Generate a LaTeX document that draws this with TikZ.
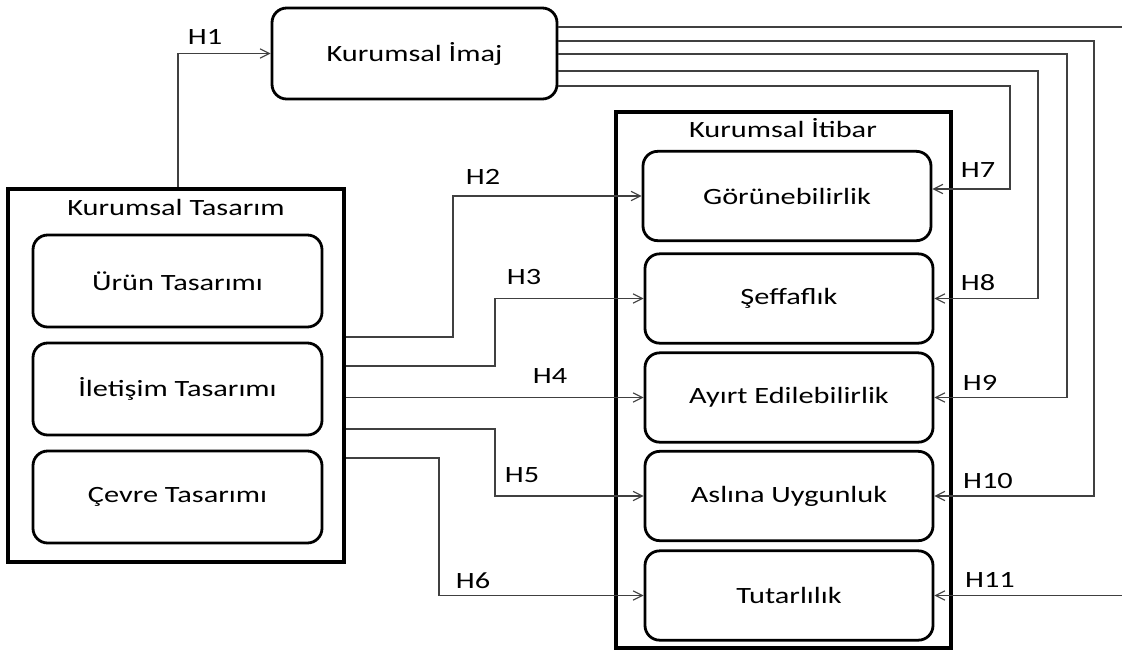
\documentclass[tikz,border=0pt]{standalone}
\usepackage{fontspec}
\setmainfont{Carlito}[FakeStretch=1.3]
\usetikzlibrary{arrows.meta}

\begin{document}
\begin{tikzpicture}[x=0.75pt,y=-0.75pt,
  every node/.style={font=\fontsize{17.5}{20}\selectfont, inner sep=0pt},
  outerbox/.style={draw, line width=2.7pt, minimum width=#1},
  rbox/.style={draw, line width=2.1pt, rounded corners=11pt, align=center},
  lbox/.style={rbox, minimum width=216.75pt, minimum height=69pt},
  ibox/.style={rbox, minimum width=216pt, minimum height=67pt},
  conn/.style={draw=black!75, line width=0.8pt, -{Straight Barb[length=7pt,width=7pt]}}]

\clip (0,0) rectangle (1122,651);
\fill[white] (0,0) rectangle (1122,651);

% main image box
\node[rbox, minimum width=213.75pt, minimum height=68.25pt] (imaj) at (414.5,53.5) {Kurumsal İmaj};

% corporate design group
\node[outerbox=252pt, minimum height=279.75pt] (tas) at (176,375.5) {};
\node (tastit) at (176,207) {Kurumsal Tasarım};
\node[lbox] (urun) at (177.5,281) {Ürün Tasarımı};
\node[lbox] (ilet) at (177.5,389) {İletişim Tasarımı};
\node[lbox] (cevre) at (177.5,497) {Çevre Tasarımı};

% corporate reputation group
\node[outerbox=251.25pt, minimum height=402pt] (itb) at (783.5,380) {};
\node (itbtit) at (783,128) {Kurumsal İtibar};
\node[ibox] (gor) at (787,196) {Görünebilirlik};
\node[ibox] (sef) at (789,298.5) {Şeffaflık};
\node[ibox] (ayr) at (789,397.5) {Ayırt Edilebilirlik};
\node[ibox] (asl) at (789,496) {Aslına Uygunluk};
\node[ibox] (tut) at (789,595.5) {Tutarlılık};

% bend points
\coordinate (c1) at (178,0);
\coordinate (c2) at (453,337);
\coordinate (c3) at (495,366);
\coordinate (c5) at (495,429);
\coordinate (c6) at (439,458);
\coordinate (d7) at (1010,86);
\coordinate (d8) at (1038,71);
\coordinate (d9) at (1067,54);
\coordinate (d10) at (1094,41);
\coordinate (d11) at (1124,27);
\coordinate (e7) at (0,189);

% design -> image / reputation
\draw[conn] (tas.north -| c1) |- (imaj.west);
\draw[conn] (tas.east |- c2) -- (c2) |- (gor.west);
\draw[conn] (tas.east |- c3) -- (c3) |- (sef.west);
\draw[conn] (tas.east |- ayr.west) -- (ayr.west);
\draw[conn] (tas.east |- c5) -- (c5) |- (asl.west);
\draw[conn] (tas.east |- c6) -- (c6) |- (tut.west);

% image -> reputation
\draw[conn] (imaj.east |- d7) -- (d7) |- (gor.east |- e7);
\draw[conn] (imaj.east |- d8) -- (d8) |- (sef.east);
\draw[conn] (imaj.east |- d9) -- (d9) |- (ayr.east);
\draw[conn] (imaj.east |- d10) -- (d10) |- (asl.east);
\draw[conn] (imaj.east |- d11) -- (d11) |- (tut.east);

% hypothesis labels
\node (h1) at (205,37) {H1};
\node (h2) at (483,177) {H2};
\node (h3) at (524,277) {H3};
\node (h4) at (550,376) {H4};
\node (h5) at (522,475) {H5};
\node (h6) at (473,581) {H6};
\node (h7) at (978,170) {H7};
\node (h8) at (978,283) {H8};
\node (h9) at (980,383) {H9};
\node (h10) at (988,481) {H10};
\node (h11) at (990,580) {H11};
\end{tikzpicture}
\end{document}
